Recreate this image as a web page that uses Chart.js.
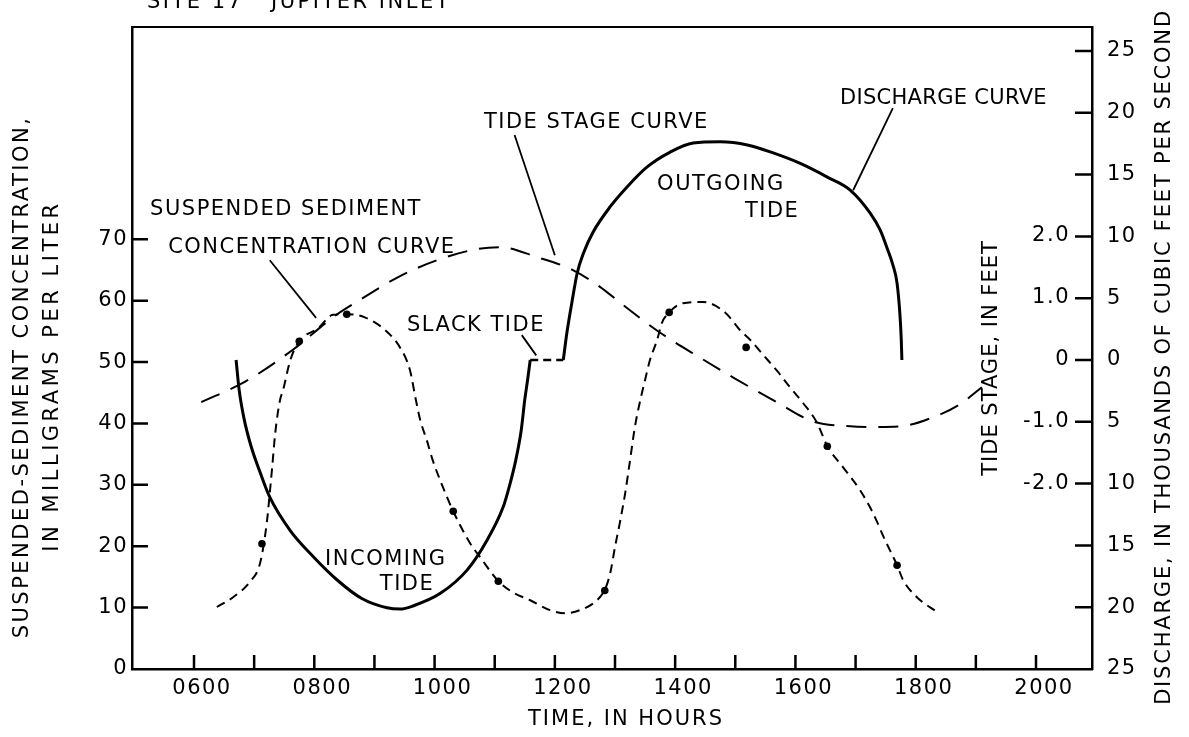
<!DOCTYPE html>
<html><head><meta charset="utf-8">
<script src="https://cdn.jsdelivr.net/npm/chart.js@4.4.1/dist/chart.umd.min.js"></script>
<style>html,body{margin:0;padding:0;background:#fff;}canvas{display:block;}</style>
</head><body>
<canvas id="c" width="1189" height="737"></canvas>
<script>
// ---------- DATA (time in decimal hours) ----------
const tideHours = [6.12, 6.85, 7.65, 8.34, 8.76, 9.38, 10.04, 10.71, 11.09, 11.70, 12.30, 12.75, 13.13, 13.75, 14.41, 14.96, 15.69, 16.29, 16.91, 17.29, 17.74, 18.40, 18.74, 19.10];
const tideFeet  = [-0.68, -0.35, 0.17, 0.71, 0.97, 1.33, 1.61, 1.79, 1.82, 1.66, 1.45, 1.18, 0.89, 0.44, 0.04, -0.28, -0.68, -0.99, -1.07, -1.08, -1.07, -0.88, -0.71, -0.44];

// discharge, thousands of cfs (incoming negative, outgoing positive)
const incomingHours = [6.70, 6.75, 6.83, 6.95, 7.10, 7.26, 7.60, 7.98, 8.38, 8.79, 9.21, 9.43, 9.64, 10.09, 10.54, 10.87, 11.14, 11.25, 11.35, 11.44, 11.50, 11.55, 11.59];
const incomingKcfs  = [0, -2.4, -4.7, -7.0, -9.1, -11.1, -13.8, -15.9, -17.8, -19.3, -20.05, -20.15, -19.9, -18.9, -17.0, -14.6, -11.9, -10.1, -8.1, -5.7, -3.2, -1.5, 0];
const slackHours = [11.59, 12.14];
const slackKcfs  = [0, 0];
const outgoingHours = [12.14, 12.20, 12.29, 12.37, 12.48, 12.63, 12.92, 13.20, 13.53, 13.91, 14.30, 14.75, 15.20, 15.63, 16.08, 16.53, 16.91, 17.24, 17.41, 17.52, 17.62, 17.69, 17.74, 17.76, 17.77];
const outgoingKcfs  = [0, 2.2, 4.85, 7.0, 8.7, 10.3, 12.4, 14.0, 15.6, 16.8, 17.55, 17.65, 17.4, 16.75, 15.9, 14.8, 13.75, 11.9, 10.5, 9.1, 7.7, 6.2, 3.5, 1.6, 0];

// suspended-sediment concentration curve, mg/L
const concHours = [6.38, 6.65, 6.93, 7.10, 7.21, 7.26, 7.30, 7.35, 7.43, 7.48, 7.60, 7.75, 8.06, 8.31, 8.54, 8.84, 9.18, 9.43, 9.59, 9.69, 9.76, 9.87, 9.97, 10.14, 10.31, 10.59, 10.76, 11.06, 11.30, 11.59, 11.92, 12.17, 12.42, 12.70, 12.83, 12.92, 13.00, 13.08, 13.17, 13.25, 13.33, 13.42, 13.50, 13.58, 13.70, 13.78, 13.90, 14.13, 14.46, 14.83, 15.08, 15.25, 15.48, 15.71, 15.91, 16.13, 16.36, 16.53, 16.79, 17.07, 17.29, 17.49, 17.69, 17.79, 18.02, 18.35];
const concMgL   = [10.1, 11.7, 14.2, 17.3, 23.8, 28.7, 32.9, 38.4, 43.8, 45.4, 50.3, 53.4, 55.5, 57.7, 57.8, 57.3, 55.2, 52.3, 48.7, 43.8, 40.6, 37.3, 34.0, 29.6, 25.7, 20.5, 18.2, 14.3, 12.5, 11.2, 9.6, 9.1, 9.6, 11.2, 12.9, 15.6, 19.9, 23.8, 28.7, 34.0, 39.4, 43.8, 47.1, 50.3, 53.6, 56.4, 58.1, 59.6, 59.8, 58.1, 55.2, 53.6, 51.0, 48.4, 45.9, 43.3, 40.1, 36.3, 32.9, 29.2, 25.4, 21.0, 16.9, 14.5, 11.7, 9.3];

// observed samples
const sampleHours = [7.13, 7.75, 8.54, 10.31, 11.06, 12.83, 13.90, 15.18, 16.53, 17.69];
const sampleMgL   = [20.4, 53.4, 57.8, 25.7, 14.3, 12.8, 58.1, 52.4, 36.3, 16.9];

// ticks
const hourMarks = [6, 7, 8, 9, 10, 11, 12, 13, 14, 15, 16, 17, 18, 19, 20];
const timeTicks = [6, 8, 10, 12, 14, 16, 18, 20];
const timeTickLabels = ['0600', '0800', '1000', '1200', '1400', '1600', '1800', '2000'];
const concTicks = [0, 10, 20, 30, 40, 50, 60, 70];
const tideTicks = [-2, -1, 0, 1, 2];
const tideTickLabels = ['-2.0', '-1.0', '0', '1.0', '2.0'];
const dischargeTicks = [-25, -20, -15, -10, -5, 0, 5, 10, 15, 20, 25];

// ---------- STYLE / LAYOUT ----------
const FONT = "'DejaVu Sans', 'Liberation Sans', sans-serif";
const FS = 21;
const LS = '1.5px';

// annotation placements in data units (hours, mg/L) and letter spacing
const notes = [
  ['SUSPENDED SEDIMENT', 5.27, 74.9, '1.5px'],
  ['CONCENTRATION CURVE', 5.57, 68.7, '1.5px'],
  ['TIDE STAGE CURVE', 10.82, 89.1, '1.5px'],
  ['DISCHARGE CURVE', 16.74, 93.0, '0.3px'],
  ['OUTGOING', 13.70, 79.0, '1.5px'],
  ['TIDE', 15.16, 74.6, '1.5px'],
  ['SLACK TIDE', 9.54, 56.0, '1.5px'],
  ['INCOMING', 8.18, 17.8, '1.5px'],
  ['TIDE', 9.09, 13.7, '1.5px']
];
const leaders = [
  [7.26, 66.6, 8.03, 57.2],
  [11.33, 87.0, 12.0, 67.4],
  [17.62, 91.4, 16.96, 78.0],
  [11.45, 54.4, 11.69, 51.1]
];

function pts(xs, ys) { return xs.map((x, i) => ({ x: x, y: ys[i] })); }

function vtext(ctx, s, x, yc, ls) {
  ctx.save(); ctx.letterSpacing = ls; ctx.translate(x, yc); ctx.rotate(-Math.PI / 2);
  ctx.textAlign = 'center'; ctx.textBaseline = 'middle'; ctx.fillText(s, 0, 0); ctx.restore();
}
function htext(ctx, s, x, y, ls, align, base) {
  ctx.save(); ctx.letterSpacing = ls; ctx.textAlign = align; ctx.textBaseline = base;
  ctx.fillText(s, x, y); ctx.restore();
}

const decor = {
  id: 'decor',
  beforeUpdate(chart) { chart.ctx.letterSpacing = LS; },
  beforeLayout(chart) { chart.ctx.letterSpacing = LS; },
  beforeDraw(chart) {
    const ctx = chart.ctx; ctx.letterSpacing = LS;
    ctx.save(); ctx.fillStyle = '#fff'; ctx.fillRect(0, 0, chart.width, chart.height); ctx.restore();
  },
  afterDraw(chart) {
    const ctx = chart.ctx, a = chart.chartArea, s = chart.scales;
    ctx.save();
    ctx.strokeStyle = '#000'; ctx.fillStyle = '#000';
    // top frame line
    ctx.lineWidth = 2.2;
    ctx.beginPath(); ctx.moveTo(a.left, a.top); ctx.lineTo(a.right, a.top); ctx.stroke();
    // inward tick marks
    ctx.lineWidth = 2.5;
    ctx.beginPath();
    hourMarks.forEach(h => { const px = s.x.getPixelForValue(h); ctx.moveTo(px, a.bottom); ctx.lineTo(px, a.bottom - 14); });
    concTicks.forEach(v => { if (v === 0) return; const py = s.y.getPixelForValue(v); ctx.moveTo(a.left, py); ctx.lineTo(a.left + 16, py); });
    dischargeTicks.forEach(v => { if (v === -25) return; const py = s.yQ.getPixelForValue(v); ctx.moveTo(a.right, py); ctx.lineTo(a.right - 17, py); });
    ctx.stroke();
    // leader lines
    ctx.lineWidth = 1.8;
    ctx.beginPath();
    leaders.forEach(l => {
      ctx.moveTo(s.x.getPixelForValue(l[0]), s.y.getPixelForValue(l[1]));
      ctx.lineTo(s.x.getPixelForValue(l[2]), s.y.getPixelForValue(l[3]));
    });
    ctx.stroke();
    ctx.font = FS + 'px ' + FONT;
    // tide-stage tick labels (inside the frame, left of the right axis)
    tideTicks.forEach((v, i) => htext(ctx, tideTickLabels[i], a.right - 22, s.yTide.getPixelForValue(v), LS, 'right', 'middle'));
    // annotations
    notes.forEach(n => htext(ctx, n[0], s.x.getPixelForValue(n[1]), s.y.getPixelForValue(n[2]), n[3], 'left', 'middle'));
    // title (cut at top as in the original)
    htext(ctx, 'SITE 17   JUPITER INLET', 147, 8, '2.5px', 'left', 'alphabetic');
    // axis titles
    htext(ctx, 'TIME, IN HOURS', 626, 720, '2px', 'center', 'middle');
    vtext(ctx, 'SUSPENDED-SEDIMENT CONCENTRATION,', 23, 377, '2.5px');
    vtext(ctx, 'IN MILLIGRAMS PER LITER', 53, 376, '3.5px');
    vtext(ctx, 'TIDE STAGE, IN FEET', 992, 358, '1px');
    vtext(ctx, 'DISCHARGE, IN THOUSANDS OF CUBIC FEET PER SECOND', 1165, 357, '1.8px');
    ctx.restore();
  }
};

const tickFont = { family: FONT, size: FS };
const axisBorder = { display: true, color: '#000', width: 2.5 };
const noPadV = sc => { sc.paddingTop = 0; sc.paddingBottom = 0; };

new Chart(document.getElementById('c'), {
  type: 'line',
  data: {
    datasets: [
      { label: 'Tide stage', data: pts(tideHours, tideFeet), yAxisID: 'yTide', borderColor: '#000', borderWidth: 2, borderDash: [20, 12], pointRadius: 0, cubicInterpolationMode: 'monotone', fill: false },
      { label: 'Discharge (incoming)', data: pts(incomingHours, incomingKcfs), yAxisID: 'yQ', borderColor: '#000', borderWidth: 3, pointRadius: 0, cubicInterpolationMode: 'monotone', fill: false },
      { label: 'Slack tide', data: pts(slackHours, slackKcfs), yAxisID: 'yQ', borderColor: '#000', borderWidth: 2.5, borderDash: [8, 5], pointRadius: 0, fill: false },
      { label: 'Discharge (outgoing)', data: pts(outgoingHours, outgoingKcfs), yAxisID: 'yQ', borderColor: '#000', borderWidth: 3, pointRadius: 0, cubicInterpolationMode: 'monotone', fill: false },
      { label: 'Concentration curve', data: pts(concHours, concMgL), yAxisID: 'y', borderColor: '#000', borderWidth: 2, borderDash: [9, 6], pointRadius: 0, cubicInterpolationMode: 'monotone', fill: false },
      { label: 'Samples', data: pts(sampleHours, sampleMgL), yAxisID: 'y', showLine: false, pointRadius: 3.8, pointBackgroundColor: '#000', pointBorderColor: '#000', pointBorderWidth: 0 }
    ]
  },
  options: {
    responsive: false,
    animation: false,
    events: [],
    layout: { padding: { top: 27, left: 0, right: 0, bottom: 0 } },
    plugins: { legend: { display: false }, tooltip: { enabled: false } },
    scales: {
      x: {
        type: 'linear', position: 'bottom', min: 4.969, max: 20.931,
        afterBuildTicks: sc => { sc.ticks = timeTicks.map(v => ({ value: v })); },
        afterFit: sc => { sc.height = 68; sc.paddingLeft = 0; sc.paddingRight = 0; },
        ticks: { color: '#000', font: tickFont, padding: 7, labelOffset: 8, maxRotation: 0, autoSkip: false,
          callback: v => { const i = timeTicks.indexOf(v); return i >= 0 ? timeTickLabels[i] : ''; } },
        grid: { display: false, drawTicks: false },
        border: axisBorder
      },
      y: {
        type: 'linear', position: 'left', min: 0, max: 104.6,
        afterBuildTicks: sc => { sc.ticks = concTicks.map(v => ({ value: v })); },
        afterFit: sc => { sc.width = 132; noPadV(sc); },
        ticks: { color: '#000', font: tickFont, padding: 4, callback: v => String(v) },
        grid: { display: false, drawTicks: false },
        border: axisBorder
      },
      yTide: {
        type: 'linear', position: 'right', weight: 0, min: -4.984, max: 5.371, display: false
      },
      yQ: {
        type: 'linear', position: 'right', weight: 1, min: -25, max: 26.94,
        afterBuildTicks: sc => { sc.ticks = dischargeTicks.map(v => ({ value: v })); },
        afterFit: sc => { sc.width = 97; noPadV(sc); },
        ticks: { color: '#000', font: tickFont, padding: 15, callback: v => String(Math.abs(v)) },
        grid: { display: false, drawTicks: false },
        border: axisBorder
      }
    }
  },
  plugins: [decor]
});
</script>
</body></html>
